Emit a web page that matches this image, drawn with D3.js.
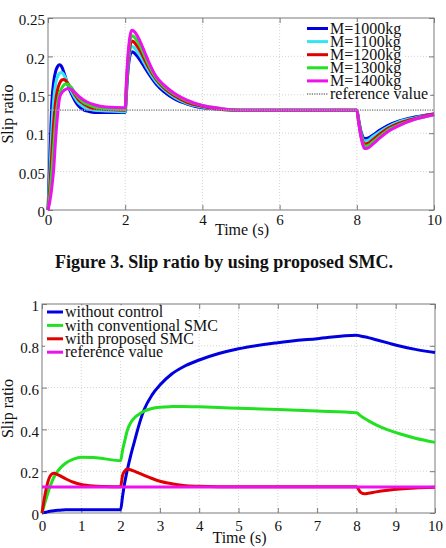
<!DOCTYPE html>
<html>
<head>
<meta charset="utf-8">
<script src="https://cdn.jsdelivr.net/npm/d3@7"></script>
<style>
    body { margin: 0; background: #fff; }
    svg { display: block; }
</style>
</head>
<body>
<svg id="fig" width="446" height="548" font-family="Liberation Serif"></svg>
<script>
// ---- top chart: slip ratio for different vehicle masses ----
const timeTop = [0, 0.05, 0.1, 0.15, 0.2, 0.25, 0.3, 0.35, 0.4, 0.45, 0.5, 0.55, 0.6, 0.7, 0.8, 0.9, 1.0, 1.2, 1.5, 2.0,
    2.03, 2.07, 2.12, 2.17, 2.22, 2.3, 2.4, 2.5, 2.6, 2.8, 3.0, 3.3, 3.6, 4.0, 4.5, 5, 6, 7, 8,
    8.05, 8.1, 8.15, 8.2, 8.3, 8.4, 8.6, 8.8, 9.1, 9.5, 10];

const m1000 = [0, 0.07, 0.14, 0.168, 0.181, 0.187, 0.189, 0.187, 0.181, 0.173, 0.165, 0.158, 0.152, 0.142, 0.135, 0.131, 0.129, 0.127, 0.127, 0.127,
    0.150, 0.180, 0.200, 0.206, 0.205, 0.201, 0.194, 0.186, 0.178, 0.164, 0.154, 0.144, 0.138, 0.133, 0.131, 0.130, 0.130, 0.130, 0.130,
    0.117, 0.104, 0.096, 0.093, 0.094, 0.097, 0.104, 0.110, 0.116, 0.121, 0.125];
const m1100 = [0, 0.05, 0.105, 0.145, 0.165, 0.174, 0.178, 0.179, 0.177, 0.172, 0.166, 0.160, 0.155, 0.146, 0.139, 0.135, 0.132, 0.130, 0.129, 0.128,
    0.154, 0.185, 0.206, 0.213, 0.212, 0.207, 0.200, 0.191, 0.182, 0.167, 0.157, 0.146, 0.139, 0.134, 0.131, 0.130, 0.130, 0.130, 0.130,
    0.116, 0.102, 0.093, 0.090, 0.091, 0.095, 0.102, 0.108, 0.115, 0.120, 0.125];
const m1200 = [0, 0.032, 0.075, 0.115, 0.142, 0.157, 0.165, 0.169, 0.170, 0.169, 0.166, 0.162, 0.158, 0.150, 0.143, 0.139, 0.136, 0.132, 0.131, 0.130,
    0.158, 0.191, 0.212, 0.220, 0.219, 0.214, 0.206, 0.196, 0.186, 0.170, 0.159, 0.148, 0.140, 0.135, 0.131, 0.130, 0.130, 0.130, 0.130,
    0.115, 0.100, 0.090, 0.086, 0.087, 0.091, 0.099, 0.106, 0.113, 0.119, 0.125];
const m1300 = [0, 0.02, 0.05, 0.085, 0.118, 0.140, 0.152, 0.158, 0.162, 0.164, 0.164, 0.162, 0.160, 0.152, 0.146, 0.141, 0.138, 0.134, 0.132, 0.131,
    0.162, 0.196, 0.219, 0.227, 0.226, 0.221, 0.212, 0.201, 0.190, 0.172, 0.161, 0.150, 0.142, 0.136, 0.132, 0.130, 0.130, 0.130, 0.130,
    0.114, 0.098, 0.088, 0.083, 0.084, 0.088, 0.096, 0.104, 0.111, 0.118, 0.124];
const m1400 = [0, 0.012, 0.03, 0.055, 0.095, 0.125, 0.146, 0.152, 0.155, 0.157, 0.158, 0.158, 0.157, 0.153, 0.148, 0.144, 0.141, 0.137, 0.134, 0.133,
    0.165, 0.200, 0.225, 0.234, 0.233, 0.228, 0.218, 0.206, 0.194, 0.174, 0.163, 0.151, 0.143, 0.136, 0.132, 0.130, 0.130, 0.130, 0.130,
    0.113, 0.097, 0.086, 0.080, 0.081, 0.085, 0.094, 0.102, 0.110, 0.118, 0.124];
const refTimeTop = [0, 10];
const refTop = [0.13, 0.13];

const topLabels = ["M=1000kg", "M=1100kg", "M=1200kg", "M=1300kg", "M=1400kg", "reference value"];
const topYTicks = [0, 0.05, 0.1, 0.15, 0.2, 0.25];
const topXTicks = [0, 2, 4, 6, 8, 10];

// ---- bottom chart: comparison of controllers ----
const timeBottom = [0, 0.1, 0.2, 0.3, 0.4, 0.5, 0.6, 0.8, 1.0, 1.3, 1.6, 2.0, 2.05, 2.1, 2.17, 2.25, 2.35, 2.45, 2.6, 2.8,
    3.0, 3.3, 3.6, 4.0, 4.5, 5, 6, 7, 8, 8.1, 8.2, 8.3, 8.5, 8.8, 9.1, 9.5, 10];
const withoutControl = [0, 0.004, 0.008, 0.011, 0.013, 0.014, 0.015, 0.016, 0.016, 0.016, 0.016, 0.016, 0.08, 0.14, 0.205, 0.27, 0.34, 0.41, 0.495, 0.565,
    0.612, 0.665, 0.70, 0.732, 0.763, 0.786, 0.815, 0.834, 0.851, 0.847, 0.843, 0.839, 0.829, 0.814, 0.799, 0.783, 0.768];
const conventionalSMC = [0, 0.065, 0.125, 0.17, 0.2, 0.222, 0.238, 0.258, 0.267, 0.266, 0.259, 0.25, 0.3, 0.34, 0.395, 0.43, 0.455, 0.47, 0.487, 0.5,
    0.506, 0.509, 0.51, 0.508, 0.505, 0.501, 0.495, 0.488, 0.48, 0.466, 0.453, 0.442, 0.422, 0.398, 0.379, 0.358, 0.338];
const proposedSMC = [0, 0.11, 0.175, 0.19, 0.184, 0.174, 0.164, 0.147, 0.136, 0.129, 0.127, 0.126, 0.18, 0.2, 0.21, 0.207, 0.2, 0.192, 0.18, 0.165,
    0.152, 0.14, 0.132, 0.128, 0.126, 0.126, 0.126, 0.126, 0.126, 0.1, 0.092, 0.094, 0.101, 0.109, 0.115, 0.12, 0.123];
const refTimeBottom = [0, 10];
const refBottom = [0.125, 0.125];

const bottomLabels = ["without control", "with conventional SMC", "with proposed SMC", "reference value"];
const bottomYTicks = [0, 0.2, 0.4, 0.6, 0.8, 1];
const bottomXTicks = [0, 1, 2, 3, 4, 5, 6, 7, 8, 9, 10];

const BLUE = "#0000e0", CYAN = "#33e6f0", RED = "#e00000", GREEN = "#22e022", MAGENTA = "#ee11ee";
const SERIF = "'Liberation Serif', 'DejaVu Serif', serif";

// every text goes through here so the serif face sticks
function serif(sel, size, weight) {
    return sel.attr("font-family", "Liberation Serif")
        .style("font-family", SERIF, "important")
        .style("font-size", size + "px", "important")
        .style("font-weight", weight || "normal", "important")
        .style("fill", "#111");
}

class SlipChart {
    constructor(svg, box, yMax, yTicks, xTicks) {
        this.svg = svg;
        this.box = box;  // {left, top, right, bottom}
        this.yTicks = yTicks;
        this.xTicks = xTicks;
        this.xScale = d3.scaleLinear().domain([0, 10]).range([box.left, box.right]);
        this.yScale = d3.scaleLinear().domain([0, yMax]).range([box.bottom, box.top]);
        this.g = svg.append("g");
    }

    drawFrame(opt) {
        const b = this.box, x = this.xScale, y = this.yScale;
        const grid = this.g.append("g")
            .attr("stroke", "#c8c8c8").attr("stroke-dasharray", "1,2").attr("stroke-width", 0.8);
        grid.selectAll(".gx").data(this.xTicks.slice(1, -1)).join("line")
            .attr("x1", d => x(d)).attr("x2", d => x(d)).attr("y1", b.top).attr("y2", b.bottom);
        grid.selectAll(".gy").data(this.yTicks.slice(1, -1)).join("line")
            .attr("y1", d => y(d)).attr("y2", d => y(d)).attr("x1", b.left).attr("x2", b.right);

        // axes with inner ticks, mirrored on top and right like MATLAB
        const tickLen = 5;
        const axB = this.g.append("g").attr("transform", `translate(0,${b.bottom})`)
            .call(d3.axisBottom(x).tickValues(this.xTicks).tickSize(-tickLen).tickFormat(d3.format("d")));
        const axT = this.g.append("g").attr("transform", `translate(0,${b.top})`)
            .call(d3.axisTop(x).tickValues(this.xTicks).tickSize(-tickLen).tickFormat(""));
        const axL = this.g.append("g").attr("transform", `translate(${b.left},0)`)
            .call(d3.axisLeft(y).tickValues(this.yTicks).tickSize(-tickLen).tickFormat(d => d3.format("~g")(d)));
        const axR = this.g.append("g").attr("transform", `translate(${b.right},0)`)
            .call(d3.axisRight(y).tickValues(this.yTicks).tickSize(-tickLen).tickFormat(""));

        [axB, axT, axL, axR].forEach(a => {
            a.attr("font-family", null).attr("font-size", null);
            a.select(".domain").remove();
            a.selectAll("line").attr("stroke", "#7a7a7a");
        });
        serif(axB.selectAll("text"), 15).attr("y", opt.xLabelDy).attr("dy", 0);
        serif(axL.selectAll("text"), 15).attr("x", -3).attr("dy", "0.45em");

        this.g.append("rect")
            .attr("x", b.left).attr("y", b.top)
            .attr("width", b.right - b.left).attr("height", b.bottom - b.top)
            .attr("fill", "none").attr("stroke", "#7a7a7a").attr("stroke-width", 1);

        serif(this.g.append("text"), 16)
            .attr("x", (b.left + b.right) / 2 + 1).attr("y", opt.timeY)
            .attr("text-anchor", "middle")
            .text("Time (s)");
        serif(this.g.append("text"), 16)
            .attr("transform", `translate(13,${(b.top + b.bottom) / 2}) rotate(-90)`)
            .attr("text-anchor", "middle")
            .text("Slip ratio");
    }

    drawLine(times, values, color, width, dash) {
        const line = d3.line()
            .x((d, i) => this.xScale(times[i]))
            .y(d => this.yScale(d))
            .curve(d3.curveMonotoneX);
        this.g.append("path")
            .datum(values)
            .attr("d", line)
            .attr("fill", "none")
            .attr("stroke", color)
            .attr("stroke-width", width)
            .attr("stroke-linejoin", "round")
            .attr("stroke-dasharray", dash || null);
    }

    drawLegend(items, opt) {
        const lg = this.g.append("g");
        const bgs = lg.append("g");
        items.forEach((it, i) => {
            const yy = opt.y0 + i * opt.step;
            const t = serif(lg.append("text"), 16)
                .attr("x", opt.x1 + 2).attr("y", yy).attr("dy", "0.33em")
                .text(it.label);
            const w = t.node().getComputedTextLength();
            bgs.append("rect")
                .attr("x", opt.x0 - 2).attr("y", yy - opt.step / 2)
                .attr("width", opt.x1 - opt.x0 + 6 + w).attr("height", opt.step)
                .attr("fill", "#fff");
            lg.append("line")
                .attr("x1", opt.x0).attr("x2", opt.x1).attr("y1", yy).attr("y2", yy)
                .attr("stroke", it.color).attr("stroke-width", it.width)
                .attr("stroke-dasharray", it.dash || null);
        });
    }
}

const svg = d3.select("#fig");

// top
const topChart = new SlipChart(svg, {left: 48, top: 18, right: 434, bottom: 210}, 0.25, topYTicks, topXTicks);
topChart.drawFrame({xLabelDy: 15, timeY: 235});
const topSeries = [m1000, m1100, m1200, m1300, m1400];
const topColors = [BLUE, CYAN, RED, GREEN, MAGENTA];
topSeries.forEach((s, i) => topChart.drawLine(timeTop, s, topColors[i], 3));
topChart.drawLine(refTimeTop, refTop, "#9a9a9a", 1.8, "1.2,1.2");
topChart.drawLegend(
    topLabels.map((l, i) => i < 5
        ? {label: l, color: topColors[i], width: 3}
        : {label: l, color: "#9a9a9a", width: 1.8, dash: "1.2,1.2"}),
    {x0: 307, x1: 328, y0: 28.5, step: 13.1}
);

// caption
serif(svg.append("text"), 18, "bold")
    .attr("x", 224).attr("y", 268)
    .attr("text-anchor", "middle")
    .text("Figure 3. Slip ratio by using proposed SMC.");

// bottom
const bottomChart = new SlipChart(svg, {left: 42, top: 304, right: 435, bottom: 513}, 1, bottomYTicks, bottomXTicks);
bottomChart.drawFrame({xLabelDy: 18, timeY: 543});
bottomChart.drawLine(timeBottom, withoutControl, BLUE, 3);
bottomChart.drawLine(timeBottom, conventionalSMC, GREEN, 3);
bottomChart.drawLine(timeBottom, proposedSMC, RED, 3);
bottomChart.drawLine(refTimeBottom, refBottom, MAGENTA, 3);
bottomChart.drawLegend(
    bottomLabels.map((l, i) => ({label: l, color: [BLUE, GREEN, RED, MAGENTA][i], width: 3})),
    {x0: 47, x1: 63, y0: 312, step: 13.4}
);
</script>
</body>
</html>
